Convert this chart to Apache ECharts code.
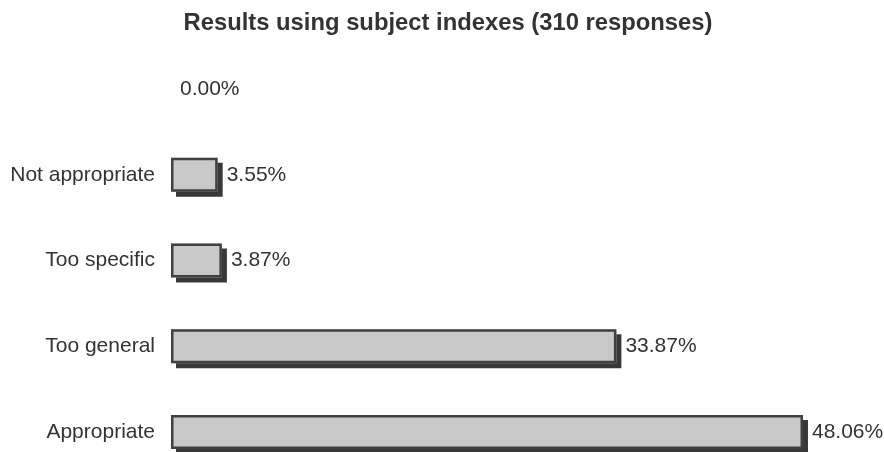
<!DOCTYPE html>
<html>
<head>
<meta charset="utf-8">
<script src="https://cdn.jsdelivr.net/npm/echarts@6/dist/echarts.min.js"></script>
<style>html,body{margin:0;padding:0;background:#fff}#c{width:884px;height:452px}</style>
</head>
<body>
<div id="c"></div>
<script>
const categories = ['', 'Not appropriate', 'Too specific', 'Too general', 'Appropriate'];
const values = [0.00, 3.55, 3.87, 33.87, 48.06];
const titleText = 'Results using subject indexes (310 responses)';

const FONT = 'Liberation Sans, Arial, sans-serif';
const chart = echarts.init(document.getElementById('c'));
chart.setOption({
  animation: false,
  backgroundColor: '#fff',
  title: {
    text: titleText,
    left: 443, textAlign: 'center',
    top: 6,
    textStyle: { fontFamily: FONT, fontSize: 23.8, fontWeight: 'bold', color: '#333' }
  },
  grid: { left: 171, width: 657.5, top: 89, height: 343, containLabel: false },
  xAxis: { type: 'value', min: 0, max: 50, show: false },
  yAxis: {
    type: 'category',
    data: categories,
    inverse: true,
    boundaryGap: false,
    axisLine: { show: false },
    axisTick: { show: false },
    splitLine: { show: false },
    axisLabel: { margin: 16, fontFamily: FONT, fontSize: 21, color: '#333' }
  },
  series: [{
    type: 'bar',
    barWidth: 34,
    barGap: '-100%',
    data: values,
    itemStyle: {
      color: '#c9c9c9',
      borderWidth: 0,
      shadowColor: '#383838',
      shadowOffsetX: 5,
      shadowOffsetY: 5,
      shadowBlur: 0
    },
    silent: true
  }, {
    type: 'bar',
    barWidth: 34,
    barGap: '-100%',
    data: values.map(v => v === 0 ? { value: v, itemStyle: { borderWidth: 0 } } : v),
    itemStyle: {
      color: 'rgba(0,0,0,0)',
      borderColor: '#404040',
      borderWidth: 2.5
    },
    label: {
      show: true,
      position: 'right',
      distance: 9,
      formatter: p => p.value.toFixed(2) + '%',
      fontFamily: FONT,
      fontSize: 21,
      color: '#333'
    }
  }]
});
</script>
</body>
</html>
